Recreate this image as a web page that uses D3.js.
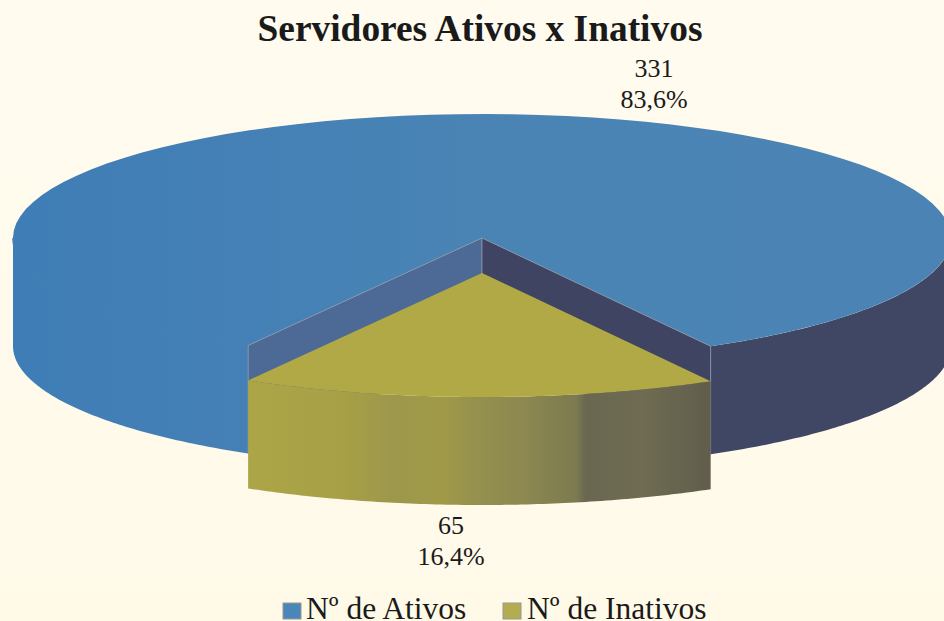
<!DOCTYPE html>
<html><head><meta charset="utf-8">
<script src="https://cdn.jsdelivr.net/npm/d3@7/dist/d3.min.js"></script>
<style>html,body{margin:0;padding:0;background:#fffaec}svg{display:block}text{font-family:"Liberation Serif",serif;fill:#1a1a1a}</style>
</head><body><script>
const categories = ["Nº de Ativos", "Nº de Inativos"];
const values = [331, 65];
const percentLabels = ["83,6%", "16,4%"];
const chartTitle = "Servidores Ativos x Inativos";

const W = 944, H = 621;
const svg = d3.select("body").append("svg").attr("width", W).attr("height", H);
const defs = svg.append("defs");

const bg = defs.append("linearGradient").attr("id","bg").attr("x1",0).attr("y1",0).attr("x2",0).attr("y2",1);
[[0,"#fffbef"],[0.75,"#fffaea"],[1,"#fff9e8"]].forEach(s=>bg.append("stop").attr("offset",s[0]).attr("stop-color",s[1]));
svg.append("rect").attr("width",W).attr("height",H).attr("fill","url(#bg)");

const topG = defs.append("linearGradient").attr("id","blueTop").attr("gradientUnits","userSpaceOnUse")
  .attr("x1",13).attr("x2",944).attr("y1",0).attr("y2",0);
[[0,"#3f7db6"],[0.5,"#4a84b5"],[1,"#4b84b4"]].forEach(s=>topG.append("stop").attr("offset",s[0]).attr("stop-color",s[1]));

const yg = defs.append("linearGradient").attr("id","yellowSide").attr("gradientUnits","userSpaceOnUse")
  .attr("x1",247).attr("x2",711).attr("y1",0).attr("y2",0);
[[0,"#aca648"],[0.2,"#a7a046"],[0.32,"#9d974c"],[0.42,"#a09a48"],[0.5,"#94904e"],[0.6,"#8c8850"],[0.71,"#7c7a50"],[0.73,"#696750"],[0.85,"#6f6c52"],[1,"#605d4c"]]
  .forEach(s=>yg.append("stop").attr("offset",s[0]).attr("stop-color",s[1]));

// Projection of the unit disc onto the tilted pie
const xP = d3.scaleLinear().domain([-1,1]).range([482-469,482+469]);
const yP = d3.scaleLinear().domain([-1,1]).range([238-124,238+124]);
const DEPTH = 108, EXPLODE = 35;
const pt = (a,dy=0)=>[xP(Math.sin(a)), yP(-Math.cos(a))+dy];
const centre = (dy=0)=>[xP(0), yP(0)+dy];
const line = d3.line();
const arcPts = (a0,a1,dy=0)=>{const n=90;return d3.range(n+1).map(i=>pt(a0+(a1-a0)*i/n,dy));};

// Pie layout: Ativos starts where the wedge ends
const total = d3.sum(values);
const halfWedge = values[1]/total*Math.PI;
const mid = Math.PI + 0.0064;
const start = mid + halfWedge;
const slices = d3.pie().sort(null).startAngle(start).endAngle(start+2*Math.PI)(values);
const blue = slices[0], yellow = slices[1];

// Blue outer wall: right (dark) and left (same as top)
const aRight = Math.PI/2+2*Math.PI, aLeft = 3*Math.PI/2;
const wall = (a0,a1,dy=0)=>{const t=arcPts(a0,a1,dy),b=arcPts(a1,a0,dy+DEPTH);return line(t.concat(b))+"Z";};
svg.append("path").attr("d",wall(blue.startAngle,aLeft)).attr("fill","url(#blueTop)");
svg.append("path").attr("d",wall(aRight,blue.endAngle)).attr("fill","#3f4764");

// Blue top surface
svg.append("path").attr("d",line([centre()].concat(arcPts(blue.startAngle,blue.endAngle)))+"Z").attr("fill","url(#blueTop)");
// Hide the seam between the left wall and the top surface
svg.append("path").attr("d",line(arcPts(blue.startAngle,aLeft))).attr("fill","none").attr("stroke","url(#blueTop)").attr("stroke-width",1.5);

// Inner walls of the notch
const leftCorner = pt(blue.startAngle), rightCorner = pt(blue.endAngle), c = centre();
const innerWall = (p,fill)=>svg.append("path")
  .attr("d",line([c,p,[p[0],p[1]+DEPTH],[c[0],c[1]+DEPTH]])+"Z")
  .attr("fill",fill).attr("stroke","#8c97a8").attr("stroke-width",0.8);
innerWall(leftCorner,"#4d6a96");
innerWall(rightCorner,"#3e4461");

// Exploded wedge
svg.append("path").attr("d",wall(yellow.startAngle,yellow.endAngle,EXPLODE)).attr("fill","url(#yellowSide)");
svg.append("path").attr("d",line([centre(EXPLODE)].concat(arcPts(yellow.startAngle,yellow.endAngle,EXPLODE)))+"Z").attr("fill","#b0a946");

// Text
svg.append("text").attr("x",480).attr("y",41).attr("text-anchor","middle").attr("font-size",37.4).attr("font-weight","bold").text(chartTitle);
const labelPos = [[654,77,108],[451,534,565]];
values.forEach((v,i)=>{
  svg.append("text").attr("x",labelPos[i][0]).attr("y",labelPos[i][1]).attr("text-anchor","middle").attr("font-size",26).text(v);
  svg.append("text").attr("x",labelPos[i][0]).attr("y",labelPos[i][2]).attr("text-anchor","middle").attr("font-size",26).text(percentLabels[i]);
});
const legendX = [[283,306],[503,527]], swatch = ["#4a86b8","#b4ac50"];
categories.forEach((t,i)=>{
  svg.append("rect").attr("x",legendX[i][0]).attr("y",603).attr("width",18).attr("height",16).attr("fill",swatch[i]).attr("stroke","#9a9a90").attr("stroke-width",1);
  svg.append("text").attr("x",legendX[i][1]).attr("y",619).attr("font-size",31.5).text(t);
});
</script></body></html>
